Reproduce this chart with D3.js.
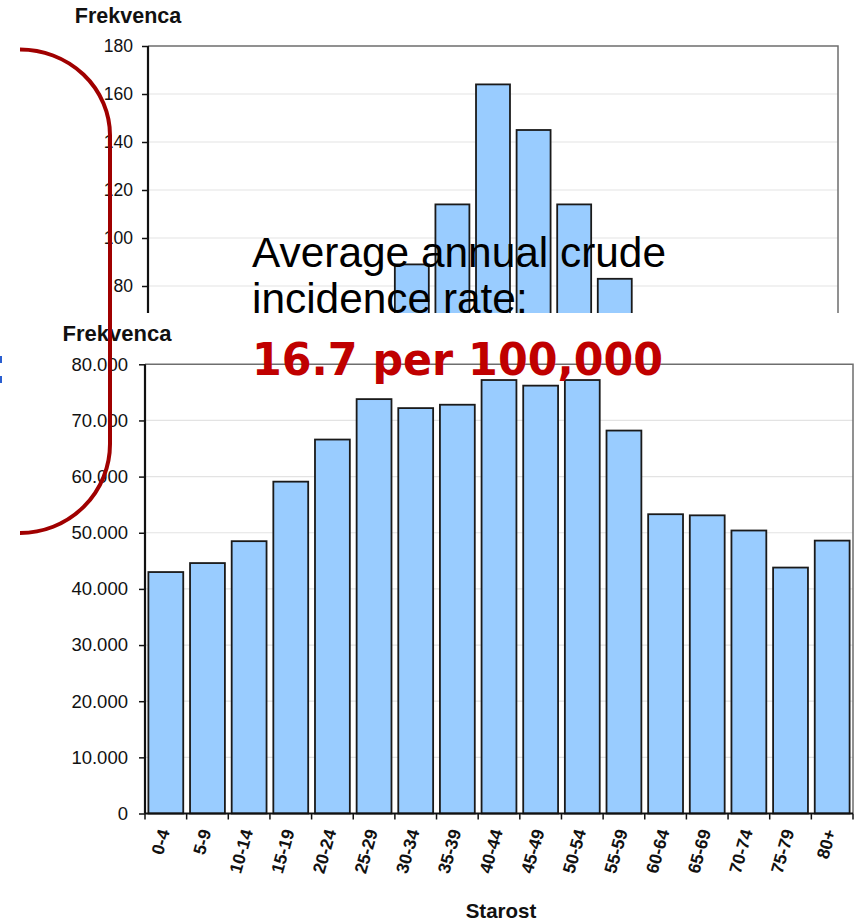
<!DOCTYPE html>
<html>
<head>
<meta charset="utf-8">
<script src="https://cdn.jsdelivr.net/npm/d3@7"></script>
<style>
  html, body { margin: 0; padding: 0; background: #fff; }
  svg { display: block; font-family: "Liberation Sans", Arial, sans-serif; }
</style>
</head>
<body>
<svg id="chart" width="856" height="923"></svg>
<script>
// Age groups shared by both panels
const ageGroups = ["0-4", "5-9", "10-14", "15-19", "20-24", "25-29", "30-34", "35-39",
  "40-44", "45-49", "50-54", "55-59", "60-64", "65-69", "70-74", "75-79", "80+"];

// Upper panel: number of cases per age group (only its top part is visible)
const caseCounts = [4, 3, 6, 14, 27, 52, 89, 114, 164, 145, 114, 83, 58, 41, 29, 17, 9];
const caseTicks = [80, 100, 120, 140, 160, 180];

// Lower panel: population per age group
const population = [43000, 44600, 48500, 59100, 66600, 73800, 72200, 72800,
  77200, 76200, 77200, 68200, 53300, 53100, 50400, 43800, 48600];
const populationTicks = [0, 10000, 20000, 30000, 40000, 50000, 60000, 70000, 80000];

const yTitle = "Frekvenca";
const xTitle = "Starost";
const noteLines = ["Average annual crude", "incidence rate:"];
const noteRate = "16.7 per 100,000";

const svg = d3.select("#chart");
const fmt = d3.formatLocale({ decimal: ",", thousands: ".", grouping: [3], currency: ["", ""] }).format(",");

const barFill = "#99ccff";
const frameGray = "#6e6e6e";
const gridGray = "#e3e3e3";

function drawPanel(g, opts) {
  const x = d3.scaleBand().domain(ageGroups).range([opts.left, opts.right])
    .paddingInner(0.163).paddingOuter(0.0815);
  const y = d3.scaleLinear().domain(opts.domain).range([opts.bottom, opts.top]);

  // gridlines
  g.append("g").selectAll("line").data(opts.ticks.filter(t => t > opts.domain[0] && t < opts.domain[1]))
    .join("line")
    .attr("x1", opts.left).attr("x2", opts.right)
    .attr("y1", d => y(d)).attr("y2", d => y(d))
    .attr("stroke", gridGray).attr("stroke-width", 1.2);

  // top and right frame
  g.append("path")
    .attr("d", `M${opts.left},${y(opts.domain[1])}H${opts.right}V${opts.bottom}`)
    .attr("fill", "none").attr("stroke", frameGray).attr("stroke-width", 1.5);

  // bars
  g.append("g").selectAll("rect").data(opts.values).join("rect")
    .attr("x", (d, i) => x(ageGroups[i]))
    .attr("y", d => y(d))
    .attr("width", x.bandwidth())
    .attr("height", d => y(opts.domain[0]) - y(d))
    .attr("fill", barFill).attr("stroke", "#1a1a1a").attr("stroke-width", 1.8);

  // y axis
  const yAxis = d3.axisLeft(y).tickValues(opts.ticks).tickFormat(opts.format)
    .tickSize(6).tickPadding(opts.pad);
  const ya = g.append("g").attr("transform", `translate(${opts.left},0)`).call(yAxis);
  ya.select(".domain").attr("stroke", "#111").attr("stroke-width", 2.2).attr("d", `M0,${opts.top}V${opts.bottom}`);
  ya.selectAll(".tick line").attr("stroke", "#111").attr("stroke-width", 1.5);
  ya.selectAll(".tick text").attr("font-size", opts.tickSize).attr("fill", "#111")
    .attr("font-family", "'Liberation Sans', Arial, sans-serif");

  // y title
  g.append("text").attr("x", opts.titleX).attr("y", opts.titleY)
    .attr("text-anchor", "middle").attr("font-weight", "bold")
    .attr("font-size", opts.titleSize).attr("fill", "#111").text(yTitle);

  return { x, y };
}

// ---- upper panel (cases) ----
const upper = svg.append("g");
drawPanel(upper, {
  left: 148, right: 838, top: 46, bottom: 478,
  domain: [0, 180], values: caseCounts, ticks: caseTicks,
  format: d3.format("d"), tickSize: 17.5, pad: 9,
  titleX: 128, titleY: 23, titleSize: 21.5
});

// lower panel sits on a white sheet over the upper one
svg.append("rect").attr("x", 0).attr("y", 313).attr("width", 856).attr("height", 610).attr("fill", "#fff");

const lower = svg.append("g");
const lowerScales = drawPanel(lower, {
  left: 145, right: 853, top: 364.3, bottom: 813.5,
  domain: [0, 80000], values: population, ticks: populationTicks,
  format: fmt, tickSize: 18.5, pad: 11,
  titleX: 117, titleY: 341, titleSize: 22
});

// x axis of the lower panel
const xb = lowerScales.x;
const xAxisG = lower.append("g").attr("transform", "translate(0,813.5)");
xAxisG.append("line").attr("x1", 145).attr("x2", 853).attr("stroke", "#111").attr("stroke-width", 2.2);
const step = xb.step();
const bounds = d3.range(ageGroups.length + 1).map(i => 145 + i * step);
xAxisG.selectAll("line.tk").data(bounds).join("line").attr("class", "tk")
  .attr("x1", d => d).attr("x2", d => d).attr("y1", 0).attr("y2", 6)
  .attr("stroke", "#111").attr("stroke-width", 1.5);
xAxisG.selectAll("text").data(ageGroups).join("text")
  .attr("transform", d => `translate(${xb(d) + xb.bandwidth() / 2 + 4},${18}) rotate(-74)`)
  .attr("text-anchor", "end")
  .attr("font-weight", "bold").attr("font-size", 17.5).attr("fill", "#111")
  .text(d => d);

svg.append("text").attr("x", 501).attr("y", 918)
  .attr("text-anchor", "middle").attr("font-weight", "bold").attr("font-size", 20.5)
  .attr("fill", "#111").text(xTitle);

// ---- annotation ----
const note = svg.append("g");
note.selectAll("text.l").data(noteLines).join("text").attr("class", "l")
  .attr("x", 252).attr("y", (d, i) => 266.5 + i * 46.5)
  .attr("font-size", 42.4).attr("fill", "#000").text(d => d);
note.append("text").attr("x", 252).attr("y", 375)
  .attr("font-family", "'DejaVu Sans', Verdana, sans-serif")
  .attr("font-weight", "bold").attr("font-size", 45).attr("fill", "#c00000")
  .attr("textLength", 411).attr("lengthAdjust", "spacingAndGlyphs")
  .text(noteRate);

// small blue fragments at the left edge
svg.append("rect").attr("x", 0).attr("y", 356).attr("width", 2).attr("height", 7).attr("fill", "#2a5fd0");
svg.append("rect").attr("x", 0).attr("y", 376).attr("width", 2).attr("height", 7).attr("fill", "#2a5fd0");

// dark red bracket grouping the two panels
svg.append("path")
  .attr("d", "M20,49.5 A90,86 0 0 1 110,135 L110,444 A90,89 0 0 1 20,533")
  .attr("fill", "none").attr("stroke", "#a00000").attr("stroke-width", 4);
</script>
</body>
</html>
